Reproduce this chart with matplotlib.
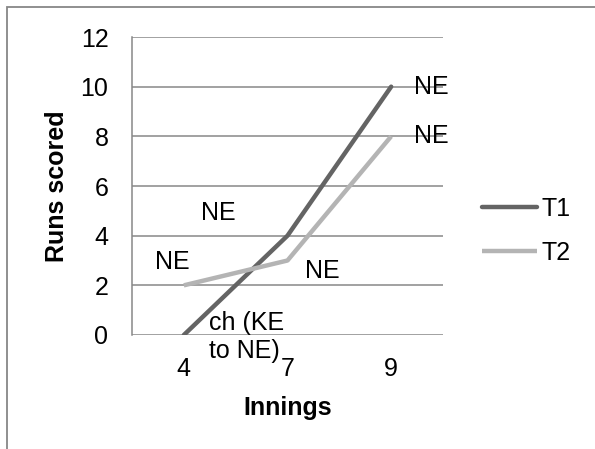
import matplotlib
matplotlib.use("Agg")
import matplotlib.pyplot as plt
from matplotlib.patches import Rectangle

plt.rcParams['font.family'] = ['Liberation Sans', 'DejaVu Sans']

innings = ['4', '7', '9']
t1_runs = [0, 4, 10]
t2_runs = [2, 3, 8]
t1_labels = ['ch (KE\nto NE)', 'NE', 'NE']
t2_labels = ['NE', 'NE', 'NE']
y_ticks = [0, 2, 4, 6, 8, 10, 12]

FS = 18
GRID = '#878787'
W, H = 595, 449

fig = plt.figure(figsize=(W / 100, H / 100), dpi=100)

# outer chart frame (runs off the right and bottom edges)
fig.patches.append(Rectangle((7 / W, -0.2), 1.2, 1.2 - 7.5 / H,
                             transform=fig.transFigure, fill=False,
                             edgecolor=GRID, linewidth=1.3, clip_on=False))

ax = fig.add_axes([132 / W, (H - 335) / H, (443 - 132) / W, (335 - 37) / H])
x = list(range(len(innings)))

l1, = ax.plot(x, t1_runs, color='#646464', lw=3.2, solid_capstyle='round', label='T1', zorder=3)
l2, = ax.plot(x, t2_runs, color='#b4b4b4', lw=3.2, solid_capstyle='butt', label='T2', zorder=3)

ax.set_xlim(-0.5, len(innings) - 0.5)
ax.set_ylim(0, 12)
ax.set_yticks(y_ticks)
ax.set_xticks(x)
ax.set_xticklabels(innings)
ax.tick_params(axis='both', length=0, labelsize=FS)
ax.tick_params(axis='y', pad=17)
ax.tick_params(axis='x', pad=16)
ax.yaxis.grid(True, color=GRID, lw=1.1)
ax.set_axisbelow(True)
for s in ['top', 'right', 'bottom']:
    ax.spines[s].set_visible(False)
ax.spines['left'].set_color(GRID)
ax.spines['left'].set_linewidth(1.1)

ax.set_ylabel('Runs scored', fontsize=FS, fontweight='bold', labelpad=8)
ax.set_xlabel('Innings', fontsize=FS, fontweight='bold', labelpad=11)

# data labels, offsets in pixels from each point
t1_offsets = [(25, -2, 'left'), (-69, 23, 'center'), (23, 0, 'left')]
t2_offsets = [(-12, 23, 'center'), (35, -11, 'center'), (23, 0, 'left')]
for vals, labs, offs in [(t1_runs, t1_labels, t1_offsets), (t2_runs, t2_labels, t2_offsets)]:
    for xi, v, lab, (dx, dy, ha) in zip(x, vals, labs, offs):
        ax.annotate(lab, (xi, v), xytext=(dx, dy), textcoords='offset pixels',
                    ha=ha, va='center', fontsize=FS, annotation_clip=False,
                    linespacing=1.2, zorder=4)

fig.legend(handles=[l1, l2], loc='center left', bbox_to_anchor=(482 / W, 1 - 230.5 / H),
           frameon=False, fontsize=FS, handlelength=2.2, handletextpad=0.2,
           labelspacing=0.8, borderpad=0, borderaxespad=0)

fig.savefig('out.png', dpi=100)
